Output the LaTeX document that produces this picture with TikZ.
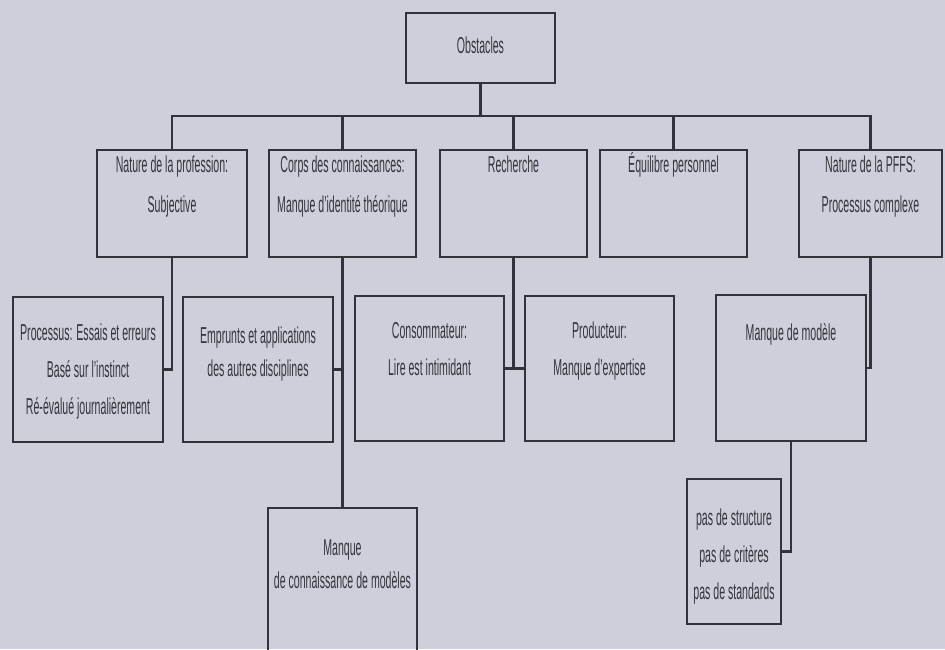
\documentclass[tikz,border=0pt]{standalone}
\usepackage{fontspec}
\setmainfont{Liberation Sans}[FakeStretch=0.46]
\definecolor{bgc}{RGB}{205,208,218}
\definecolor{ink}{RGB}{50,50,56}
\definecolor{txtc}{RGB}{52,52,58}
\newcommand{\bt}[4]{\parbox[c][#2][t]{#1}{\centering\fontsize{23}{37}\selectfont\rule{0pt}{#3}#4\par}}
\begin{document}
\begin{tikzpicture}[x=1pt,y=-1pt,
  box/.style={draw=ink,line width=2.4pt,inner sep=0pt,text=txtc},
  conn/.style={draw=ink,line width=2.4pt,line join=miter}]
\clip (0,0) rectangle (945,649);
\fill[bgc] (0,0) rectangle (945,649);
% top
\node[box] (top) at (480.5,48) {\bt{149pt}{70pt}{40pt}{Obstacles}};
% level 1
\node[box] (n1) at (172,203.5) {\bt{150pt}{107pt}{22pt}{Nature de la profession:\\[3pt]Subjective}};
\node[box] (n2) at (342.5,203.5) {\bt{147pt}{107pt}{22pt}{Corps des connaissances:\\[3pt]Manque d'identité théorique}};
\node[box] (n3) at (513.5,203.5) {\bt{147pt}{107pt}{22pt}{Recherche}};
\node[box] (n4) at (673.5,203.5) {\bt{147pt}{107pt}{22pt}{Équilibre personnel}};
\node[box] (n5) at (870.5,203.5) {\bt{143pt}{107pt}{22pt}{Nature de la PFFS:\\[3pt]Processus complexe}};
% level 2
\node[box] (p1) at (88,369.5) {\bt{150pt}{145pt}{43pt}{Processus: Essais et erreurs\\Basé sur l'instinct\\Ré-évalué journalièrement}};
\node[box] (p2) at (258,369.5) {\bt{150pt}{145pt}{46pt}{Emprunts et applications\\[-4pt]des autres disciplines}};
\node[box] (p3) at (429.5,368.5) {\bt{149pt}{145pt}{42pt}{Consommateur:\\Lire est intimidant}};
\node[box] (p4) at (599.5,368.5) {\bt{149pt}{145pt}{42pt}{Producteur:\\Manque d'expertise}};
\node[box] (p5) at (791,368) {\bt{150pt}{146pt}{45pt}{Manque de modèle}};
% level 3
\node[box] (p6) at (734,551.5) {\bt{94pt}{145pt}{46pt}{pas de structure\\pas de critères\\pas de standards}};
\node[box] (p7) at (342.5,585) {\bt{149pt}{154pt}{47pt}{Manque\\[-4pt]de connaissance de modèles}};
% connectors
\coordinate (busR) at (870.5,116);
\draw[conn] (n1.north) |- (busR) -- (n5.north);
\draw[conn] (top.south) -- (top.south |- busR);
\draw[conn] (n2.north) -- (n2.north |- busR);
\draw[conn] (n3.north) -- (n3.north |- busR);
\draw[conn] (n4.north) -- (n4.north |- busR);
\draw[conn] (n1.south) |- (p1.east);
\draw[conn] (n2.south) -- (p7.north);
\draw[conn] (p2.east) -- (p2.east -| n2.south);
\draw[conn] (n3.south) -- (n3.south |- p3.east);
\draw[conn] (p3.east) -- (p4.west);
\draw[conn] (n5.south) |- (p5.east);
\draw[conn] (p5.south) |- (p6.east);
\end{tikzpicture}
\end{document}
